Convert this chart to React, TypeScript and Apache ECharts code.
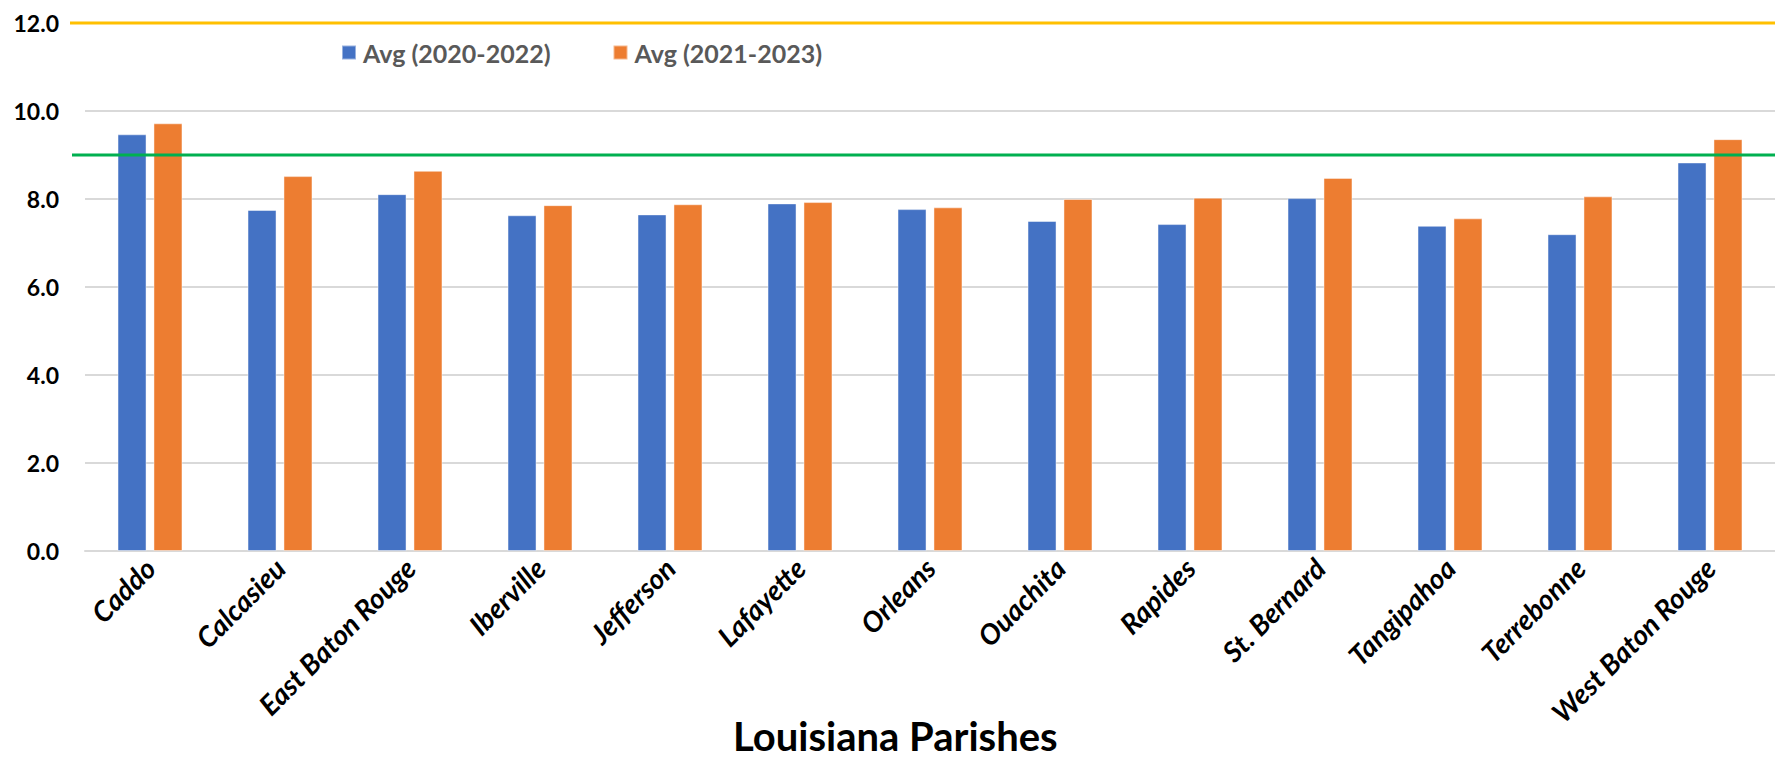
import React, { useEffect, useRef } from "react";
import * as echarts from "echarts";

// Louisiana parishes and their three-year averages
const parishes = [
  "Caddo",
  "Calcasieu",
  "East Baton Rouge",
  "Iberville",
  "Jefferson",
  "Lafayette",
  "Orleans",
  "Ouachita",
  "Rapides",
  "St. Bernard",
  "Tangipahoa",
  "Terrebonne",
  "West Baton Rouge",
];
const avg2020to2022 = [9.47, 7.75, 8.11, 7.63, 7.65, 7.9, 7.77, 7.5, 7.43, 8.02, 7.39, 7.2, 8.83];
const avg2021to2023 = [9.72, 8.52, 8.64, 7.86, 7.88, 7.93, 7.81, 8.0, 8.03, 8.48, 7.56, 8.06, 9.36];
const seriesNames = ["Avg (2020-2022)", "Avg (2021-2023)"];

// Reference levels drawn across the chart
const upperReference = 12.0;
const lowerReference = 9.0;

const yTicks = { min: 0, max: 12, interval: 2 };

const FONT = "Lato, 'Noto Sans', sans-serif";

export default function App() {
  const ref = useRef<HTMLDivElement>(null);

  useEffect(() => {
    if (!ref.current) return;
    const chart = echarts.init(ref.current, undefined, { renderer: "svg" });
    chart.setOption({
      animation: false,
      backgroundColor: "#ffffff",
      textStyle: { fontFamily: FONT },
      grid: { left: 85, right: 0, top: 23, bottom: 208, containLabel: false },
      legend: {
        left: 336,
        top: 35,
        itemWidth: 14,
        itemHeight: 14,
        itemGap: 62,
        icon: "rect",
        textStyle: { color: "#595959", fontWeight: "bold", fontSize: 25, fontFamily: FONT, padding: [0, 0, 0, 2] },
        data: seriesNames,
      },
      title: {
        text: "Louisiana Parishes",
        left: 733,
        top: 716,
        padding: 0,
        textStyle: { color: "#000000", fontWeight: "bold", fontSize: 40, lineHeight: 40, fontFamily: FONT },
      },
      xAxis: {
        type: "category",
        data: parishes,
        axisLine: { show: true, lineStyle: { color: "#d9d9d9", width: 2 } },
        axisTick: { show: false },
        axisLabel: {
          rotate: 45,
          interval: 0,
          margin: 12,
          color: "#000000",
          fontWeight: "bold",
          fontStyle: "italic",
          fontSize: 28,
          fontFamily: FONT,
        },
      },
      yAxis: {
        type: "value",
        min: yTicks.min,
        max: yTicks.max,
        interval: yTicks.interval,
        axisLine: { show: false },
        axisTick: { show: false },
        splitLine: { lineStyle: { color: "#d9d9d9", width: 2 } },
        axisLabel: {
          margin: 26,
          color: "#000000",
          fontWeight: "bold",
          fontSize: 23,
          fontFamily: FONT,
          formatter: (v: number) => v.toFixed(1),
        },
      },
      series: [
        {
          name: seriesNames[0],
          type: "bar",
          data: avg2020to2022,
          barWidth: 29,
          barGap: "24%",
          itemStyle: { color: "#4472c4", borderColor: "rgba(255,255,255,0.45)", borderWidth: 1 },
        },
        {
          name: seriesNames[1],
          type: "bar",
          data: avg2021to2023,
          barWidth: 29,
          barGap: "24%",
          itemStyle: { color: "#ed7d31", borderColor: "rgba(255,255,255,0.45)", borderWidth: 1 },
        },
      ],
    });

    // Reference lines are positioned through the value axis scale
    const yUpper = chart.convertToPixel({ yAxisIndex: 0 }, upperReference) as number;
    const yLower = chart.convertToPixel({ yAxisIndex: 0 }, lowerReference) as number;
    const width = chart.getWidth();
    chart.setOption({
      graphic: [
        {
          type: "line",
          z: 100,
          shape: { x1: 70, y1: yUpper, x2: width, y2: yUpper },
          style: { stroke: "#ffc000", lineWidth: 3 },
        },
        {
          type: "line",
          z: 100,
          shape: { x1: 72, y1: yLower, x2: width, y2: yLower },
          style: { stroke: "#00b050", lineWidth: 3 },
        },
      ],
    });

    return () => chart.dispose();
  }, []);

  return (
    <div
      ref={ref}
      style={{ position: "absolute", left: 0, top: 0, width: 1775, height: 759 }}
    />
  );
}
